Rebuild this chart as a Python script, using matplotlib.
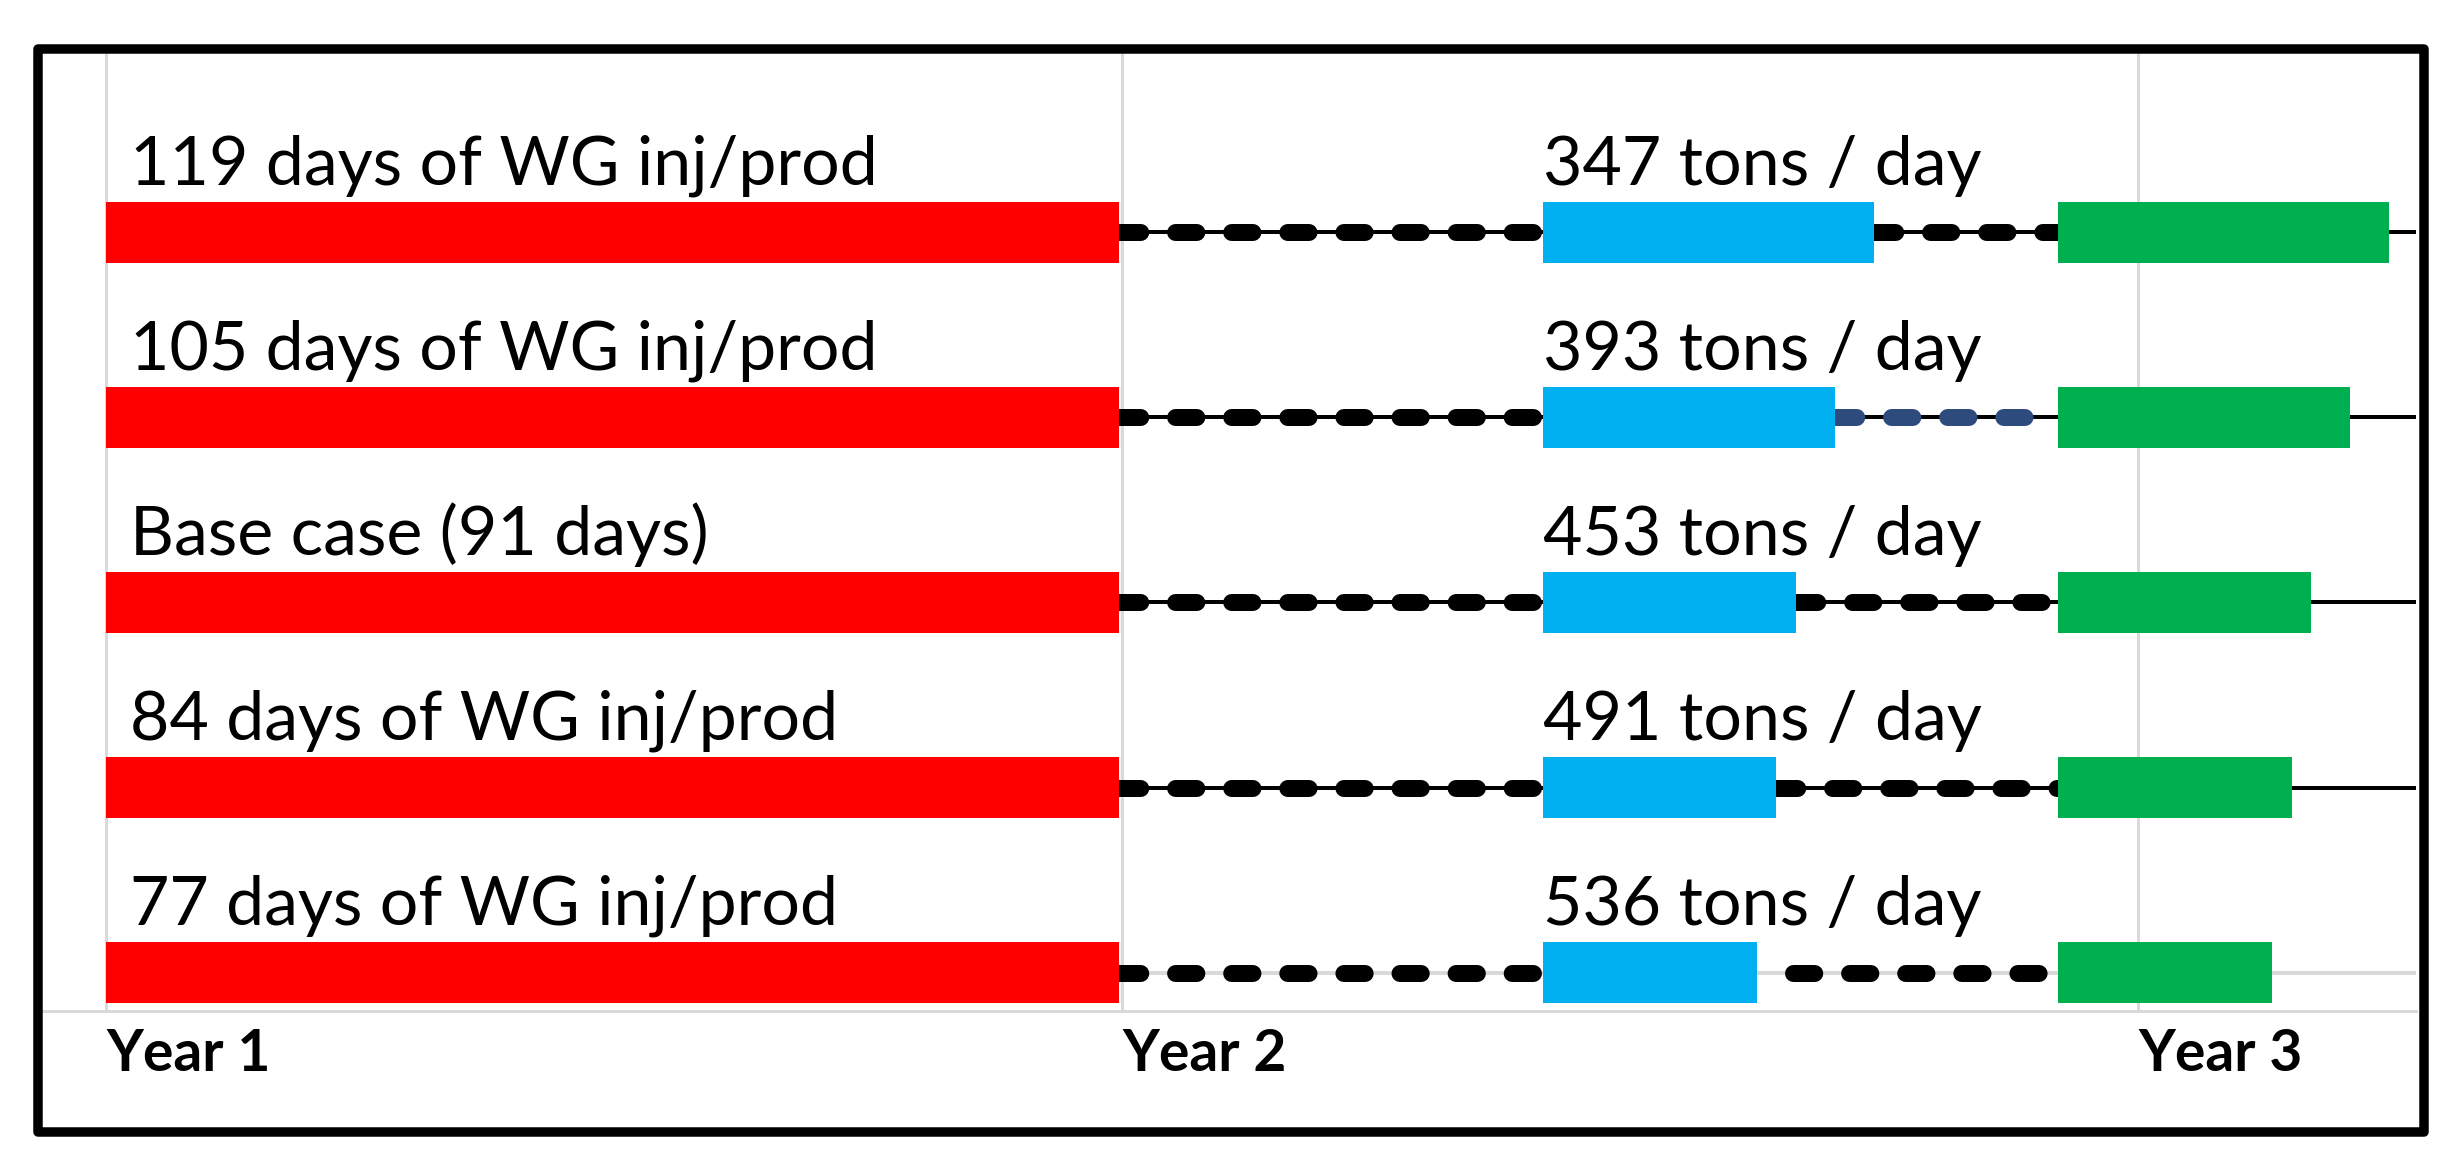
import matplotlib
matplotlib.use("Agg")
import matplotlib.pyplot as plt
from matplotlib.patches import Rectangle

# ---- data ----
case_labels = ["119 days of WG inj/prod", "105 days of WG inj/prod",
               "Base case (91 days)", "84 days of WG inj/prod",
               "77 days of WG inj/prod"]
rate_labels = ["347 tons / day", "393 tons / day", "453 tons / day",
               "491 tons / day", "536 tons / day"]
duration_days = [119, 105, 91, 84, 77]
red_start = 0
red_end = 364
blue_start = 516
green_start = 701
second_dash_start = [None, None, None, None, 606]   # None -> starts at blue end
second_dash_colors = ["black", "#2E4B7E", "black", "black", "black"]
base_line_colors = ["black", "black", "black", "black", "#D9D9D9"]
tick_pos = [0, 365, 730]
tick_labels = ["Year 1", "Year 2", "Year 3"]

W, H = 2462, 1174
DPI = 100
fig = plt.figure(figsize=(W / DPI, H / DPI), dpi=DPI)
fig.patch.set_facecolor("white")

ax_l, ax_r, ax_t, ax_b = 43, 2416, 53, 1011
ax = fig.add_axes([ax_l / W, 1 - ax_b / H, (ax_r - ax_l) / W, (ax_b - ax_t) / H])

xmin, xmax = -22.6, 829.7
ax.set_xlim(xmin, xmax)
ax.set_ylim(4.208, -0.97)

px = 72.0 / DPI  # points per pixel
dash_lw = 17 * px
thin_lw = 4 * px
bar_h = 0.33

font_txt = "Lato"

for i in range(len(case_labels)):
    y = i
    d = duration_days[i]
    blue_end = blue_start + d
    green_end = green_start + d
    # thin base line
    ax.plot([red_end, xmax], [y, y], color=base_line_colors[i], lw=thin_lw,
            solid_capstyle="butt", zorder=2)
    # dashed segments
    ax.plot([red_end, blue_start], [y, y], color="black", lw=dash_lw,
            dashes=(1.25, 2.05), dash_capstyle="round", zorder=3)
    s2 = second_dash_start[i] if second_dash_start[i] is not None else blue_end
    ax.plot([s2, green_start], [y, y], color=second_dash_colors[i], lw=dash_lw,
            dashes=(1.25, 2.05), dash_capstyle="round", zorder=3)
    # bars
    ax.barh(y, red_end - red_start, left=red_start, height=bar_h,
            color="#FF0000", zorder=4)
    ax.barh(y, d, left=blue_start, height=bar_h, color="#00B0F0", zorder=4)
    ax.barh(y, d, left=green_start, height=bar_h, color="#00B050", zorder=4)
    # labels
    ax.text(8.6, y - 0.257, case_labels[i], ha="left", va="baseline",
            fontsize=49, family=font_txt, color="black", zorder=5)
    ax.text(blue_start, y - 0.257, rate_labels[i], ha="left", va="baseline",
            fontsize=49, family=font_txt, color="black", zorder=5)

# axes styling
ax.set_yticks([])
ax.set_xticks(tick_pos)
ax.set_xticklabels(tick_labels, ha="left", va="baseline", fontsize=41,
                   fontweight="bold", family=font_txt)
ax.tick_params(axis="x", length=0, pad=60 * px)
ax.grid(axis="x", color="#D9D9D9", lw=3 * px, zorder=0)
ax.set_axisbelow(True)
for side in ["top", "left", "right"]:
    ax.spines[side].set_visible(False)
ax.spines["bottom"].set_color("#D9D9D9")
ax.spines["bottom"].set_linewidth(3 * px)

# outer black frame
fl, ft, fr, fb = 38, 48.5, 2424, 1132
frame = Rectangle((fl / W, 1 - fb / H), (fr - fl) / W, (fb - ft) / H,
                  transform=fig.transFigure, fill=False, edgecolor="black",
                  lw=9.5 * px, joinstyle="round", zorder=10)
fig.add_artist(frame)

fig.savefig("out.png", dpi=DPI, facecolor="white")
